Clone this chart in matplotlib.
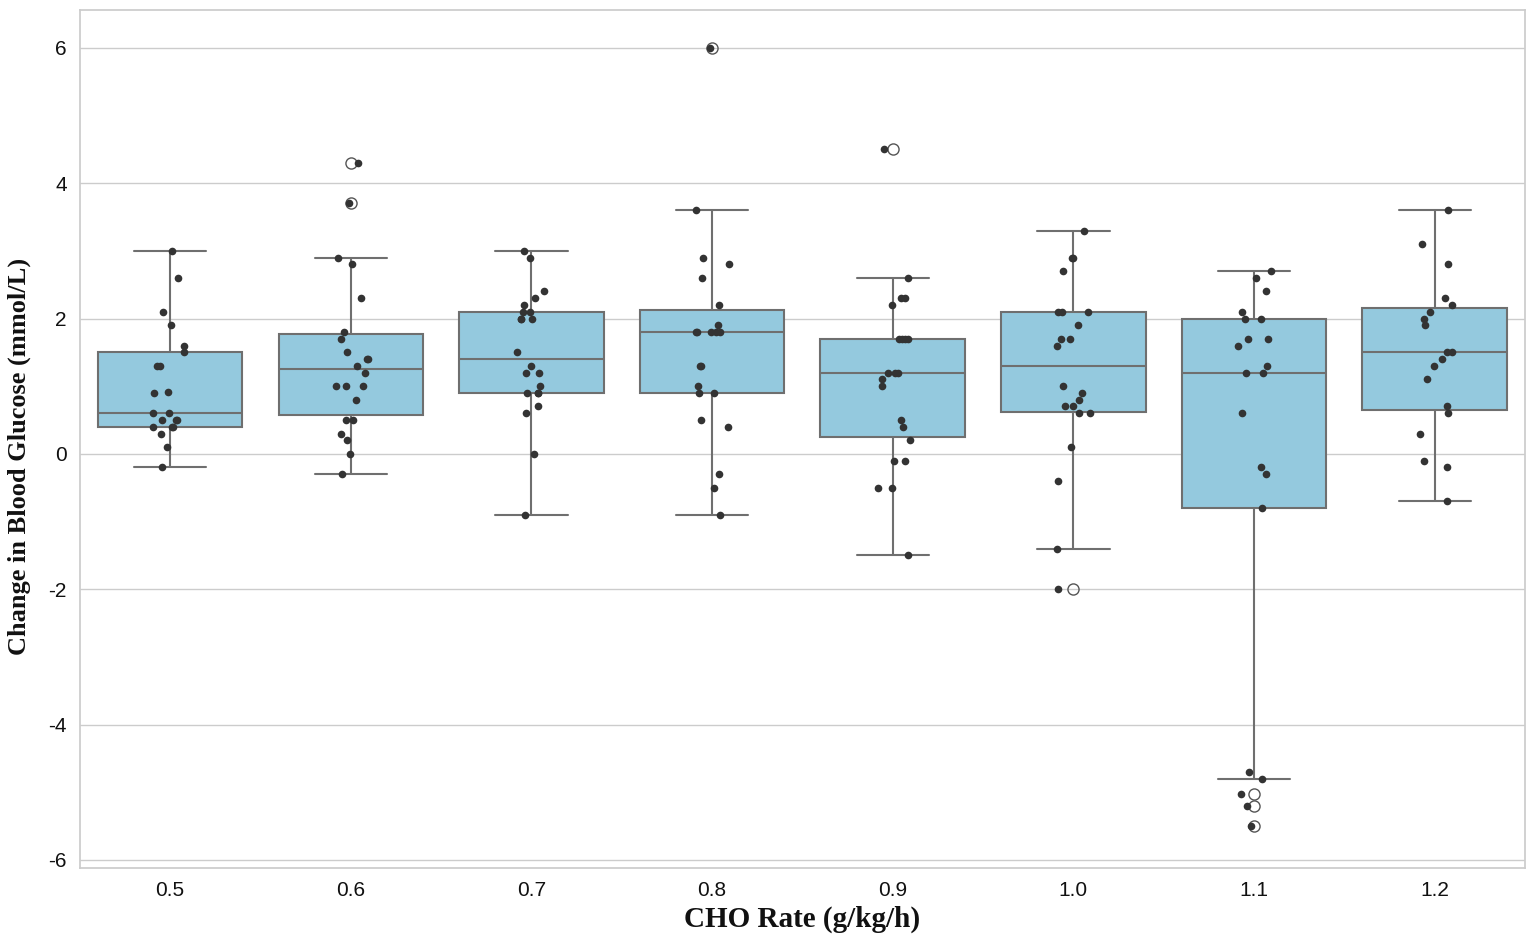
import numpy as np
import pandas as pd
import matplotlib
matplotlib.use("Agg")
import matplotlib.pyplot as plt
import seaborn as sns

# CHO rate groups (x categories)
rates = ["0.5", "0.6", "0.7", "0.8", "0.9", "1.0", "1.1", "1.2"]

# change in blood glucose per group (mmol/L)
g05 = [3.0, 2.6, 2.1, 1.9, 1.6, 1.5, 1.3, 1.3, 0.9, 0.92, 0.6, 0.6, 0.5, 0.5, 0.5,
       0.4, 0.4, 0.4, 0.3, 0.1, -0.2]
g06 = [4.3, 3.7, 2.9, 2.8, 2.3, 1.8, 1.7, 1.5, 1.4, 1.4, 1.3, 1.2, 1.0, 1.0, 1.0,
       0.8, 0.5, 0.5, 0.3, 0.2, 0.0, -0.3]
g07 = [3.0, 2.9, 2.4, 2.3, 2.2, 2.1, 2.1, 2.0, 2.0, 2.0, 1.5, 1.3, 1.2, 1.2, 1.0,
       0.9, 0.9, 0.9, 0.7, 0.6, 0.0, -0.9]
g08 = [6.0, 3.6, 2.9, 2.8, 2.6, 2.2, 1.9, 1.8, 1.8, 1.8, 1.8, 1.8, 1.3, 1.3, 1.0,
       0.9, 0.9, 0.5, 0.4, -0.3, -0.5, -0.9]
g09 = [4.5, 2.6, 2.3, 2.3, 2.2, 1.7, 1.7, 1.7, 1.7, 1.2, 1.2, 1.2, 1.1, 1.0, 0.5,
       0.4, 0.2, -0.1, -0.1, -0.5, -0.5, -1.5]
g10 = [3.3, 2.9, 2.9, 2.7, 2.1, 2.1, 2.1, 1.9, 1.7, 1.7, 1.6, 1.0, 0.9, 0.8, 0.7,
       0.7, 0.6, 0.6, 0.1, -0.4, -1.4, -2.0]
g11 = [2.7, 2.6, 2.4, 2.1, 2.0, 2.0, 1.7, 1.7, 1.6, 1.3, 1.2, 1.2, 0.6, -0.2, -0.3,
       -0.8, -4.7, -4.8, -5.02, -5.2, -5.5]
g12 = [3.6, 3.1, 2.8, 2.3, 2.2, 2.1, 2.0, 1.9, 1.5, 1.5, 1.4, 1.3, 1.1, 0.7, 0.6,
       0.3, -0.1, -0.2, -0.7]

groups = [g05, g06, g07, g08, g09, g10, g11, g12]

rows = []
for r, vals in zip(rates, groups):
    for v in vals:
        rows.append((r, v))
df = pd.DataFrame(rows, columns=["rate", "change"])

sns.set_theme(style="whitegrid")
plt.rcParams["font.family"] = ["Liberation Sans", "DejaVu Sans"]
plt.rcParams["axes.unicode_minus"] = False

fig, ax = plt.subplots(figsize=(15.35, 9.49), dpi=100)
fig.subplots_adjust(left=0.052, right=0.9935, top=0.9895, bottom=0.0854)

sns.boxplot(data=df, x="rate", y="change", order=rates, color="skyblue",
            linewidth=1.5, ax=ax,
            flierprops=dict(marker="o", markerfacecolor="none",
                            markeredgecolor="#555555", markersize=8))

np.random.seed(3)
sns.stripplot(data=df, x="rate", y="change", order=rates, color="#333333",
              size=5.5, jitter=True, ax=ax)

ax.set_xlim(-0.5, 7.5)
ax.set_ylim(-6.12, 6.56)
ax.set_yticks([-6, -4, -2, 0, 2, 4, 6])
ax.tick_params(axis="both", labelsize=15, colors="#111111")

ax.set_xlabel("CHO Rate (g/kg/h)", fontsize=21, fontweight="bold",
              family="Liberation Serif", color="#111111")
ax.set_ylabel("Change in Blood Glucose (mmol/L)", fontsize=19, fontweight="bold",
              family="Liberation Serif", color="#111111")
ax.yaxis.set_label_coords(-0.034, 0.48)

fig.savefig("out.png", dpi=100)
